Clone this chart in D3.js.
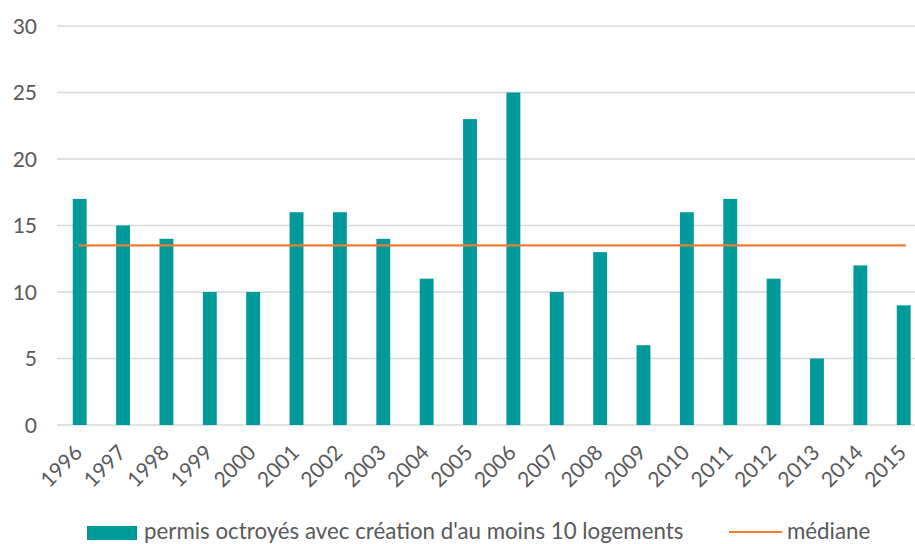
<!DOCTYPE html>
<html>
<head>
<meta charset="utf-8">
<script src="https://cdn.jsdelivr.net/npm/d3@7"></script>
<style>
  html, body { margin: 0; padding: 0; background: #fff; }
  svg { display: block; font-family: Lato, "Open Sans", sans-serif; }
</style>
</head>
<body>
<svg id="chart" width="915" height="544"></svg>
<script>
// Permits granted with at least 10 dwellings, per year
const years = ["1996","1997","1998","1999","2000","2001","2002","2003","2004","2005",
               "2006","2007","2008","2009","2010","2011","2012","2013","2014","2015"];
const permits = [17, 15, 14, 10, 10, 16, 16, 14, 11, 23, 25, 10, 13, 6, 16, 17, 11, 5, 12, 9];
const median = 13.5;
const yTicks = [0, 5, 10, 15, 20, 25, 30];
const seriesLabel = "permis octroyés avec création d'au moins 10 logements";
const medianLabel = "médiane";

const teal = "#009A9A";
const orange = "#ED7D31";
const grid = "#D9D9D9";
const textColor = "#595959";

const svg = d3.select("#chart");

const x = d3.scaleBand().domain(years).range([58, 925.4]).paddingInner(0.68).paddingOuter(0.34);
const y = d3.scaleLinear().domain([0, 30]).range([425, 26]);

// horizontal gridlines
svg.append("g")
  .selectAll("line")
  .data(yTicks)
  .join("line")
  .attr("x1", 57).attr("x2", 915)
  .attr("y1", d => y(d)).attr("y2", d => y(d))
  .attr("stroke", grid)
  .attr("stroke-width", d => d === 0 ? 1.6 : 1.3);

// y-axis labels
svg.append("g")
  .selectAll("text")
  .data(yTicks)
  .join("text")
  .attr("x", 37)
  .attr("y", d => y(d))
  .attr("dy", "0.36em")
  .attr("text-anchor", "end")
  .attr("fill", textColor)
  .attr("font-size", 21)
  .text(d => d);

// bars
svg.append("g")
  .selectAll("rect")
  .data(permits)
  .join("rect")
  .attr("x", (d, i) => x(years[i]))
  .attr("width", x.bandwidth())
  .attr("y", d => y(d))
  .attr("height", d => y(0) - y(d))
  .attr("fill", teal);

// median line across the bars
const xc = d => x(d) + x.bandwidth() / 2;
svg.append("line")
  .attr("x1", xc(years[0]) - 1)
  .attr("x2", xc(years[years.length - 1]) + 2)
  .attr("y1", y(median)).attr("y2", y(median))
  .attr("stroke", orange)
  .attr("stroke-width", 2.2);

// rotated year labels
svg.append("g")
  .selectAll("text")
  .data(years)
  .join("text")
  .attr("transform", d => `translate(${xc(d) + 4},${454}) rotate(-45)`)
  .attr("text-anchor", "end")
  .attr("fill", textColor)
  .attr("font-size", 21)
  .text(d => d);

// legend
const leg = svg.append("g");
leg.append("rect")
  .attr("x", 87).attr("y", 526).attr("width", 50).attr("height", 14)
  .attr("fill", teal);
leg.append("text")
  .attr("x", 144).attr("y", 539)
  .attr("fill", textColor)
  .attr("font-size", 22.3)
  .text(seriesLabel);
leg.append("line")
  .attr("x1", 729).attr("x2", 782).attr("y1", 532).attr("y2", 532)
  .attr("stroke", orange).attr("stroke-width", 2.2);
leg.append("text")
  .attr("x", 787).attr("y", 539)
  .attr("fill", textColor)
  .attr("font-size", 22.3)
  .text(medianLabel);
</script>
</body>
</html>
